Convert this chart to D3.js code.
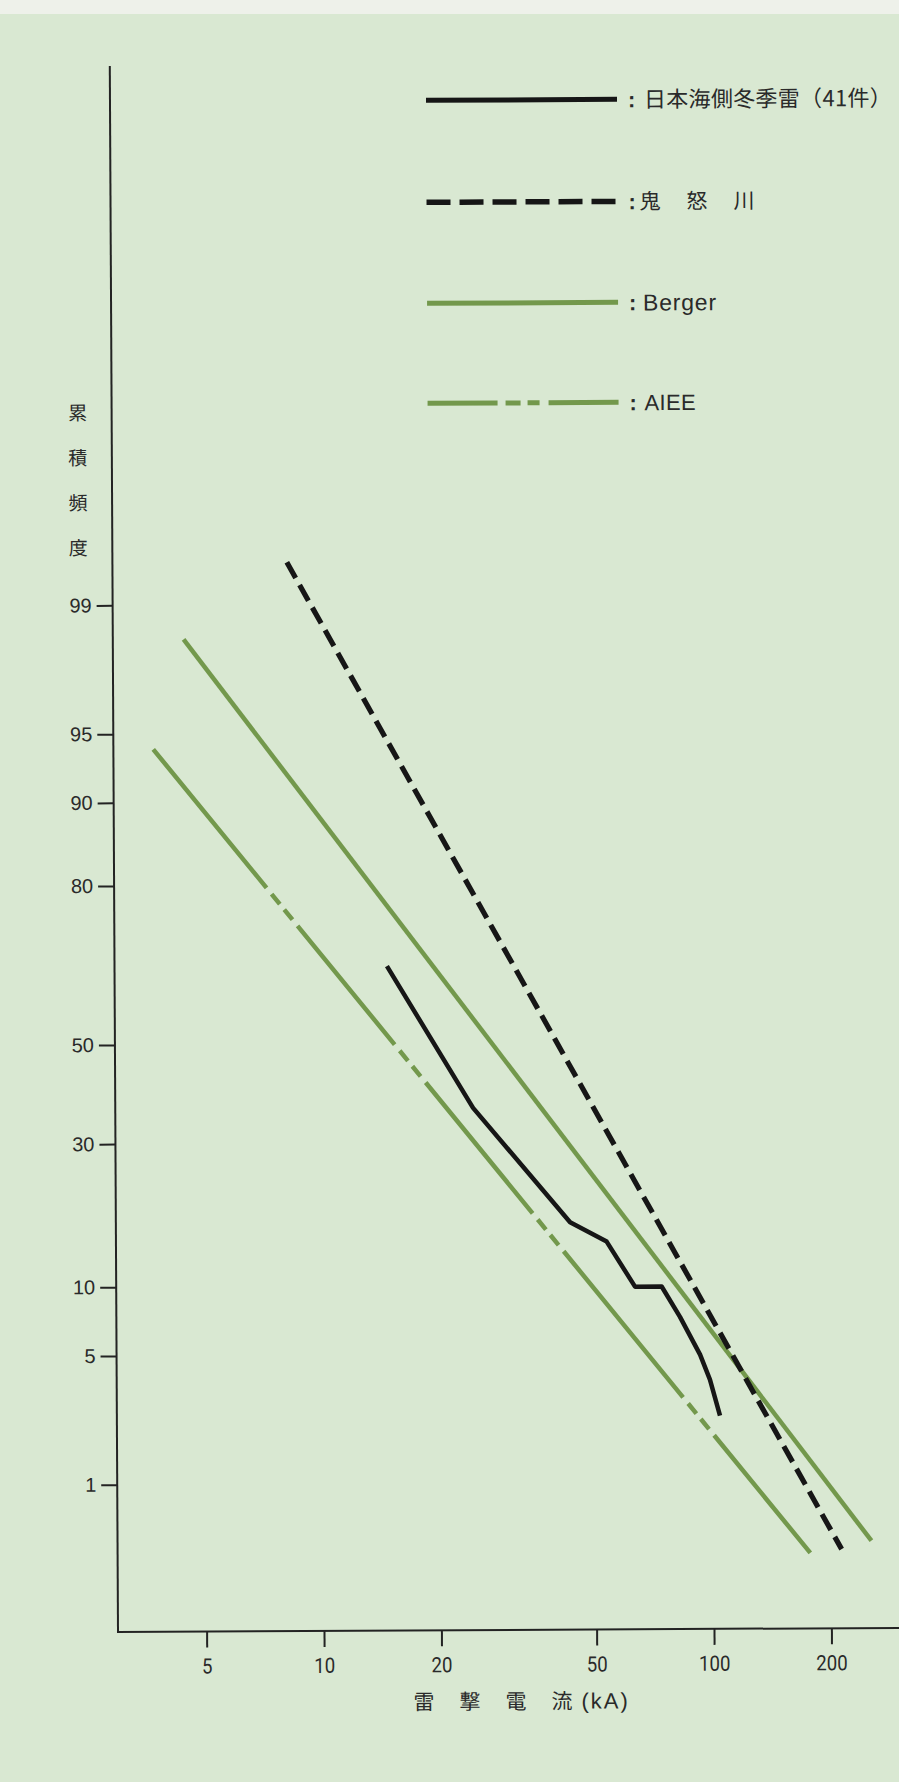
<!DOCTYPE html>
<html><head><meta charset="utf-8">
<script src="https://cdn.jsdelivr.net/npm/d3@7"></script>
<style>
html,body{margin:0;padding:0;background:#d9e8d2;}
svg{display:block;}
</style></head><body>
<svg id="chart" width="899" height="1782"></svg>
<script>
// ---------- data ----------
const xTicks = [5, 10, 20, 50, 100, 200];           // 雷撃電流 (kA)
const yTicks = [1, 5, 10, 30, 50, 80, 90, 95, 99];  // 累積頻度 (%)
const seriesNames = ["日本海側冬季雷（41件）", "鬼　怒　川", "Berger", "AIEE"];
// 日本海側冬季雷 (41件)
const winterCurrent = [14.8, 24.5, 43.3, 53.7, 63.4, 74.2, 82.6, 92.9, 98.4, 104.3];
const winterFreq    = [65.9, 36.6, 17.1, 14.6, 9.8, 9.8, 7.3, 4.9, 3.7, 2.4];
// 鬼怒川
const kinuCurrent = [8.3, 213];
const kinuFreq    = [99.46, 0.36];
// Berger
const bergerCurrent = [4.5, 254];
const bergerFreq    = [98.4, 0.41];
// AIEE
const aieeCurrent = [3.75, 177];
const aieeFreq    = [94.1, 0.34];

// ---------- helpers ----------
function probit(p) { // inverse standard normal CDF (Acklam)
  const a=[-3.969683028665376e+01,2.209460984245205e+02,-2.759285104469687e+02,1.383577518672690e+02,-3.066479806614716e+01,2.506628277459239e+00];
  const b=[-5.447609879822406e+01,1.615858368580409e+02,-1.556989798598866e+02,6.680131188771972e+01,-1.328068155288572e+01];
  const c=[-7.784894002430293e-03,-3.223964580411365e-01,-2.400758277161838e+00,-2.549732539343734e+00,4.374664141464968e+00,2.938163982698783e+00];
  const d=[7.784695709041462e-03,3.224671290700398e-01,2.445134137142996e+00,3.754408661907416e+00];
  const pl=0.02425, ph=1-pl; let q, r;
  if (p < pl) { q=Math.sqrt(-2*Math.log(p)); return (((((c[0]*q+c[1])*q+c[2])*q+c[3])*q+c[4])*q+c[5])/((((d[0]*q+d[1])*q+d[2])*q+d[3])*q+1); }
  if (p > ph) { q=Math.sqrt(-2*Math.log(1-p)); return -(((((c[0]*q+c[1])*q+c[2])*q+c[3])*q+c[4])*q+c[5])/((((d[0]*q+d[1])*q+d[2])*q+d[3])*q+1); }
  q=p-0.5; r=q*q;
  return (((((a[0]*r+a[1])*r+a[2])*r+a[3])*r+a[4])*r+a[5])*q/(((((b[0]*r+b[1])*r+b[2])*r+b[3])*r+b[4])*r+1);
}
const zip = (xs, ys) => xs.map((v, i) => [v, ys[i]]);

// ---------- layout ----------
const L = { axisX: 118, axisY: 1632, axisTop: 66, axisRight: 915 };
const INK = "#232323", GREEN = "#73984c", TXT = "#2a2a2a";
const CJK = "'Noto Sans CJK JP','Noto Sans CJK SC',sans-serif";
const LAT = "'Liberation Sans','Noto Sans',Arial,sans-serif";

const svg = d3.select("#chart");
svg.append("rect").attr("x",0).attr("y",0).attr("width",899).attr("height",1782).attr("fill","#d9e8d2");
svg.append("rect").attr("x",0).attr("y",0).attr("width",899).attr("height",14).attr("fill","#eef1ea");

// the scanned figure is tilted slightly
const g = svg.append("g").attr("transform", `rotate(-0.3,${L.axisX},${L.axisY})`);

const x = d3.scaleLog().domain([10, 100]).range([324, 714]);
const z = d3.scaleLinear().domain([0, 1]).range([1045, 856]);
const y = p => z(probit(p / 100));

// axes lines
g.append("line").attr("x1",L.axisX).attr("y1",L.axisTop).attr("x2",L.axisX).attr("y2",L.axisY)
  .attr("stroke",INK).attr("stroke-width",2);
g.append("line").attr("x1",L.axisX-1).attr("y1",L.axisY).attr("x2",L.axisRight).attr("y2",L.axisY)
  .attr("stroke",INK).attr("stroke-width",2);

// x axis
const xa = g.append("g").attr("transform",`translate(0,${L.axisY})`)
  .call(d3.axisBottom(x).tickValues(xTicks).tickFormat(d3.format("d")).tickSize(16).tickPadding(11));
xa.select(".domain").remove();
xa.selectAll(".tick line").attr("stroke",INK).attr("stroke-width",2);
xa.selectAll(".tick text").attr("fill",TXT).style("font-family","Roboto,"+LAT).style("font-size","21px")
  .attr("textLength", function(){ return this.textContent.length*10.5; }).attr("lengthAdjust","spacingAndGlyphs");

// y axis (normal probability scale)
const ya = g.append("g").attr("transform",`translate(${L.axisX},0)`)
  .call(d3.axisLeft(z).tickValues(yTicks.map(p => probit(p/100)))
    .tickFormat(dv => yTicks.find(p => Math.abs(probit(p/100)-dv) < 1e-9))
    .tickSize(16).tickPadding(5));
ya.select(".domain").remove();
ya.selectAll(".tick line").attr("stroke",INK).attr("stroke-width",2);
ya.selectAll(".tick text").attr("fill",TXT).style("font-family",LAT).style("font-size","20px");

// axis titles
const yTitle = "累積頻度".split("");
g.append("g").selectAll("text").data(yTitle).join("text")
  .attr("x", 84).attr("y", (d,i) => 413 + i*45).attr("dy","0.36em")
  .attr("text-anchor","middle").attr("fill",TXT)
  .style("font-family",CJK).style("font-size","19px").text(d => d);

const xTitle = "雷撃電流".split("");
g.append("g").selectAll("text").data(xTitle).join("text")
  .attr("x", (d,i) => 413 + i*46).attr("y", 1711).attr("fill",TXT)
  .style("font-family",CJK).style("font-size","21px").text(d => d);
g.append("text").attr("x",581).attr("y",1711).attr("fill",TXT)
  .attr("letter-spacing","2px").style("font-family",LAT).style("font-size","22px").text("(kA)");

// ---------- series ----------
const line = d3.line().x(d => x(d[0])).y(d => y(d[1]));

g.append("path").datum(zip(bergerCurrent, bergerFreq)).attr("d", line)
  .attr("fill","none").attr("stroke",GREEN).attr("stroke-width",4.5);

const aiee = g.append("path").datum(zip(aieeCurrent, aieeFreq)).attr("d", line)
  .attr("fill","none").attr("stroke",GREEN).attr("stroke-width",4.5);
// dash-dot breaks along the AIEE line
(function(){
  const len = aiee.node().getTotalLength();
  const breakAt = [0.196, 0.391, 0.601, 0.830];
  const brk = [8, 13, 7, 13, 8];
  const half = d3.sum(brk)/2;
  const arr = []; let pos = 0;
  breakAt.forEach(f => {
    const s = f*len - half;
    arr.push(s - pos); arr.push(...brk);
    pos = s + 2*half;
  });
  arr.push(len - pos + 10, 0);
  aiee.attr("stroke-dasharray", arr.join(" "));
})();

g.append("path").datum(zip(kinuCurrent, kinuFreq)).attr("d", line)
  .attr("fill","none").attr("stroke","#161616").attr("stroke-width",5.2).attr("stroke-dasharray","18 8");

g.append("path").datum(zip(winterCurrent, winterFreq)).attr("d", line)
  .attr("fill","none").attr("stroke","#161616").attr("stroke-width",4.5).attr("stroke-linejoin","round");

// ---------- legend ----------
const legend = [
  {name: seriesNames[0], y: 102, color:"#161616", w:5,   dash:null,                 font:CJK, size:22, tx:652, ls:0.3},
  {name: seriesNames[1], y: 204, color:"#161616", w:5.5, dash:"24 9",               font:CJK, size:21, tx:647, ls:2.5},
  {name: seriesNames[2], y: 305, color:GREEN,     w:5,   dash:null,                 font:LAT, size:23, tx:650, ls:0.8},
  {name: seriesNames[3], y: 405, color:GREEN,     w:5,   dash:"70 8 15 7 12 9 200", font:LAT, size:22, tx:651, ls:0.3}
];
const lg = g.append("g").selectAll("g").data(legend).join("g");
lg.append("line").attr("x1",434).attr("x2",625).attr("y1",d=>d.y).attr("y2",d=>d.y)
  .attr("stroke",d=>d.color).attr("stroke-width",d=>d.w).attr("stroke-dasharray",d=>d.dash);
lg.append("text").attr("x",636).attr("y",d=>d.y).attr("dy","0.36em").attr("fill",TXT)
  .style("font-family",LAT).style("font-size","22px").style("font-weight","bold").text(":");
lg.append("text").attr("x",d=>d.tx).attr("y",d=>d.y).attr("dy","0.36em").attr("fill",TXT)
  .attr("letter-spacing",d=>d.ls+"px")
  .style("font-family",d=>d.font).style("font-size",d=>d.size+"px").text(d=>d.name);
</script>
</body></html>
